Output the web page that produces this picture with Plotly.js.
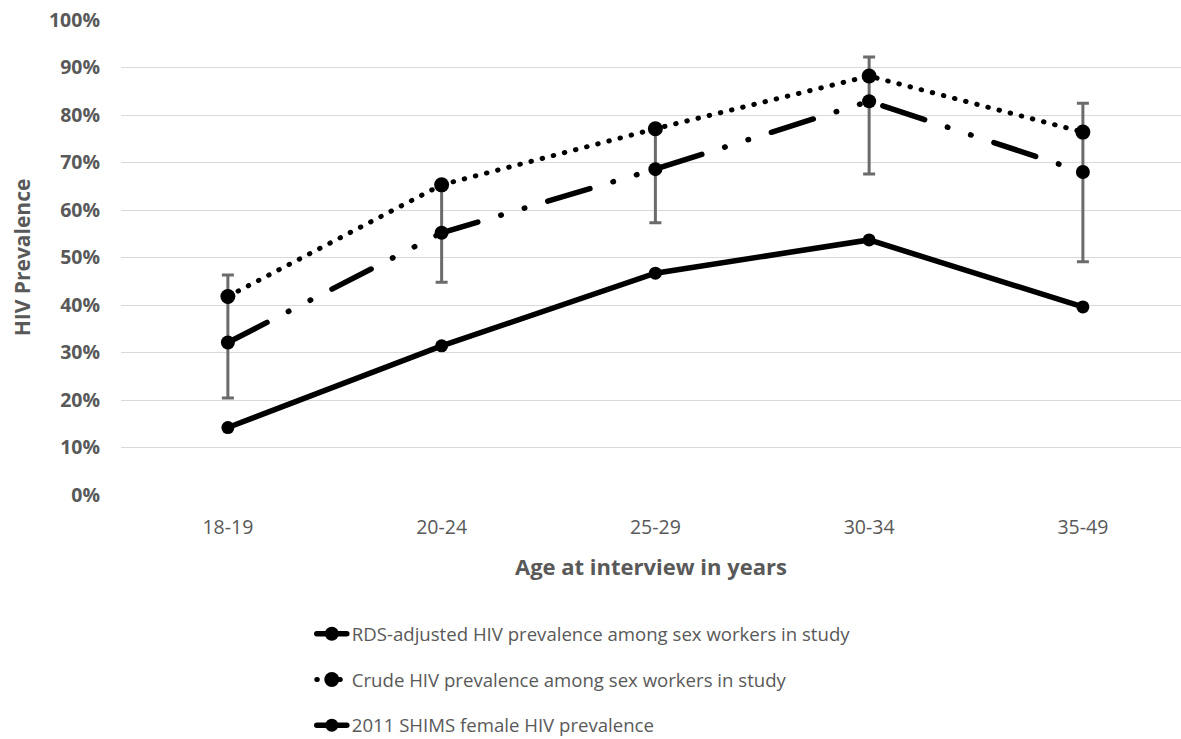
<!DOCTYPE html>
<html>
<head>
<meta charset="utf-8">
<script src="https://cdn.plot.ly/plotly-3.0.1.min.js"></script>
<style>
  html, body { margin: 0; padding: 0; background: #ffffff; overflow: hidden; }
  #chart { width: 1181px; height: 739px; }
  .scatterlayer .js-line, .legendlines path { stroke-linecap: round; }
</style>
</head>
<body>
<div id="chart"></div>
<script>
// ---- data ----
const ageGroups = ["18-19", "20-24", "25-29", "30-34", "35-49"];

const rdsAdjusted = [0.321, 0.552, 0.686, 0.829, 0.680];
const rdsLower    = [0.204, 0.448, 0.573, 0.676, 0.491];
const rdsUpper    = [0.463, 0.655, 0.772, 0.922, 0.825];

const crudePrev   = [0.418, 0.653, 0.771, 0.882, 0.764];

const shims2011   = [0.142, 0.314, 0.467, 0.537, 0.396];

const seriesNames = [
  "RDS-adjusted HIV prevalence among sex workers in study",
  "Crude HIV prevalence among sex workers in study",
  "2011 SHIMS female HIV prevalence"
];

const yTickVals  = [0, 0.1, 0.2, 0.3, 0.4, 0.5, 0.6, 0.7, 0.8, 0.9, 1.0];
const yTickTexts = ["0%", "10%", "20%", "30%", "40%", "50%", "60%", "70%", "80%", "90%", "100%"];

// ---- traces ----
const FONT = "'Open Sans', 'DejaVu Sans', sans-serif";
const GREY = "#595959";

const traces = [
  {
    x: ageGroups, y: rdsAdjusted, name: seriesNames[0],
    type: "scatter", mode: "lines+markers",
    line: { color: "#000000", width: 5.5, dash: "44px,24px,0.5px,24px,0.5px,24px" },
    marker: { color: "#000000", size: 14, symbol: "circle" },
    error_y: {
      type: "data", symmetric: false,
      array: rdsUpper.map((u, i) => u - rdsAdjusted[i]),
      arrayminus: rdsAdjusted.map((v, i) => v - rdsLower[i]),
      color: "#6b6b6b", thickness: 3, width: 6
    },
    legendgroup: "a"
  },
  {
    x: ageGroups, y: crudePrev, name: seriesNames[1],
    type: "scatter", mode: "lines+markers",
    line: { color: "#000000", width: 5, dash: "0.5px,11px" },
    marker: { color: "#000000", size: 15, symbol: "circle" },
    legendgroup: "b"
  },
  {
    x: ageGroups, y: shims2011, name: seriesNames[2],
    type: "scatter", mode: "lines+markers",
    line: { color: "#000000", width: 5.5 },
    marker: { color: "#000000", size: 13, symbol: "circle" },
    legendgroup: "c"
  }
];

const layout = {
  width: 1181, height: 739,
  margin: { l: 121, r: 0, t: 20, b: 244, autoexpand: false },
  paper_bgcolor: "#ffffff", plot_bgcolor: "#ffffff",
  font: { family: FONT, color: GREY },
  showlegend: true,
  legend: {
    orientation: "v",
    x: 0.18, xanchor: "left",
    y: -0.253, yanchor: "top",
    traceorder: "grouped",
    tracegroupgap: 18.5,
    font: { family: FONT, size: 18.6, color: GREY },
    bgcolor: "rgba(0,0,0,0)"
  },
  xaxis: {
    type: "category",
    range: [-0.5, 4.459],
    showgrid: false, zeroline: false, showline: false,
    ticks: "",
    ticklabelstandoff: 18,
    tickfont: { family: FONT, size: 19.5, color: GREY },
    title: {
      text: "Age at interview in years",
      font: { family: FONT, size: 22, color: GREY, weight: "bold" },
      standoff: 21
    },
    fixedrange: true
  },
  yaxis: {
    range: [0, 1.0],
    tickvals: yTickVals, ticktext: yTickTexts,
    showgrid: true, gridcolor: "#d9d9d9", gridwidth: 1,
    zeroline: false, showline: false,
    ticks: "",
    ticklabelstandoff: 20,
    tickfont: { family: FONT, size: 19.5, color: GREY, weight: "bold" },
    title: {
      text: "HIV Prevalence",
      font: { family: FONT, size: 21, color: GREY, weight: "bold" },
      standoff: 12
    },
    fixedrange: true
  }
};

Plotly.newPlot("chart", traces, layout, { displayModeBar: false, staticPlot: true });
</script>
</body>
</html>
